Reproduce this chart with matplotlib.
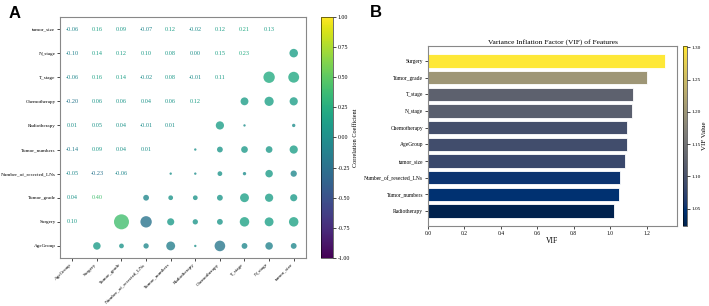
import matplotlib.pyplot as plt
import matplotlib.colors as mcolors
import matplotlib.cm as cm
import numpy as np

plt.rcParams['font.family'] = ['Liberation Serif', 'DejaVu Serif']

# variables (bottom -> top on y, left -> right on x)
variables = ['AgeGroup', 'Surgery', 'Tumor_grade', 'Number_of_resected_LNs',
             'Tumor_numbers', 'Radiotherapy', 'Chemotherapy', 'T_stage',
             'N_stage', 'tumor_size']

# lower triangle of the correlation matrix, row i holds corr with vars 0..i-1
corr_rows = [
    [],
    [0.10],
    [0.04, 0.40],
    [-0.05, -0.23, -0.06],
    [-0.14, 0.09, 0.04, 0.01],
    [0.01, 0.05, 0.04, -0.01, 0.01],
    [-0.20, 0.06, 0.06, 0.04, 0.06, 0.12],
    [-0.06, 0.16, 0.14, -0.02, 0.08, -0.01, 0.11],
    [-0.10, 0.14, 0.12, 0.10, 0.08, 0.00, 0.15, 0.23],
    [-0.06, 0.16, 0.09, -0.07, 0.12, -0.02, 0.12, 0.21, 0.13],
]

# VIF values (bottom -> top)
vif_features = ['Radiotherapy', 'Tumor_numbers', 'Number_of_resected_LNs', 'tumor_size',
                'AgeGroup', 'Chemotherapy', 'N_stage', 'T_stage', 'Tumor_grade', 'Surgery']
vif_values = [1.023, 1.047, 1.052, 1.084, 1.091, 1.095, 1.119, 1.123, 1.201, 1.302]

n = len(variables)
corr = np.eye(n)
for i, row in enumerate(corr_rows):
    for j, v in enumerate(row):
        corr[i, j] = v
        corr[j, i] = v

fig = plt.figure(figsize=(7.09, 3.06), dpi=100)

# ---- panel A: correlation bubble matrix
axA = fig.add_axes([0.0846, 0.1569, 0.347, 0.7876])
cmapA = plt.get_cmap('viridis')
normA = mcolors.Normalize(-1, 1)

xs, ys, vals = [], [], []
for i in range(n):
    for j in range(n):
        if j > i:
            xs.append(j)
            ys.append(i)
            vals.append(corr[i, j])
        elif j < i:
            axA.text(j, i, f'{corr[i, j]:.2f}', ha='center', va='center',
                     fontsize=4.5, color=cmapA(normA(corr[i, j])))
vals = np.array(vals)
axA.scatter(xs, ys, s=np.abs(vals) * 292, c=vals, cmap=cmapA, norm=normA,
            alpha=0.8, edgecolors='none')

axA.set_xlim(-0.5, n - 0.5)
axA.set_ylim(-0.5, n - 0.5)
axA.set_xticks(range(n))
axA.set_yticks(range(n))
axA.set_xticklabels(variables, rotation=45, ha='right', fontsize=3.7)
axA.set_yticklabels(variables, fontsize=3.7)
axA.tick_params(length=2, width=0.5, pad=1.2)
for sp in axA.spines.values():
    sp.set_color('#888888')
    sp.set_linewidth(0.8)

caxA = fig.add_axes([0.4528, 0.1569, 0.0169, 0.7876])
cbA = fig.colorbar(cm.ScalarMappable(norm=normA, cmap=cmapA), cax=caxA)
cbA.set_ticks(np.arange(-1, 1.01, 0.25))
cbA.ax.set_yticklabels([f'{t:.2f}' for t in np.arange(-1, 1.01, 0.25)])
cbA.ax.tick_params(labelsize=4.2, length=2, width=0.5, pad=1.5)
cbA.set_label('Correlation Coefficient', fontsize=4.5, labelpad=2)
cbA.outline.set_linewidth(0.4)

# ---- panel B: VIF bars
axB = fig.add_axes([0.6037, 0.2614, 0.3512, 0.5882])
normB = mcolors.Normalize(min(vif_values), max(vif_values))
cmapB = plt.get_cmap('cividis')
axB.barh(vif_features, vif_values, height=0.8, color=cmapB(normB(np.array(vif_values))),
         edgecolor='white', linewidth=0.6)
axB.set_xticks(np.arange(0, 1.21, 0.2))
axB.set_xlabel('VIF', fontsize=5.5, labelpad=1)
axB.set_title('Variance Inflation Factor (VIF) of Features', fontsize=5.4, pad=2)
axB.tick_params(labelsize=4.0, length=2, width=0.5, pad=1.5)
for sp in axB.spines.values():
    sp.set_color('#888888')
    sp.set_linewidth(0.8)

caxB = fig.add_axes([0.9633, 0.2614, 0.0063, 0.5882])
cbB = fig.colorbar(cm.ScalarMappable(norm=normB, cmap=cmapB), cax=caxB)
cbB.set_ticks([1.05, 1.10, 1.15, 1.20, 1.25, 1.30])
cbB.ax.set_yticklabels(['1.05', '1.10', '1.15', '1.20', '1.25', '1.30'])
cbB.ax.tick_params(labelsize=3.8, length=2, width=0.5, pad=1.0)
cbB.set_label('VIF Value', fontsize=5.0, labelpad=0.5)
cbB.outline.set_linewidth(0.4)

# panel letters
fig.text(0.012, 0.94, 'A', fontsize=12, fontweight='bold', family='Liberation Sans')
fig.text(0.521, 0.945, 'B', fontsize=12, fontweight='bold', family='Liberation Sans')

fig.savefig('out.png', dpi=100)
